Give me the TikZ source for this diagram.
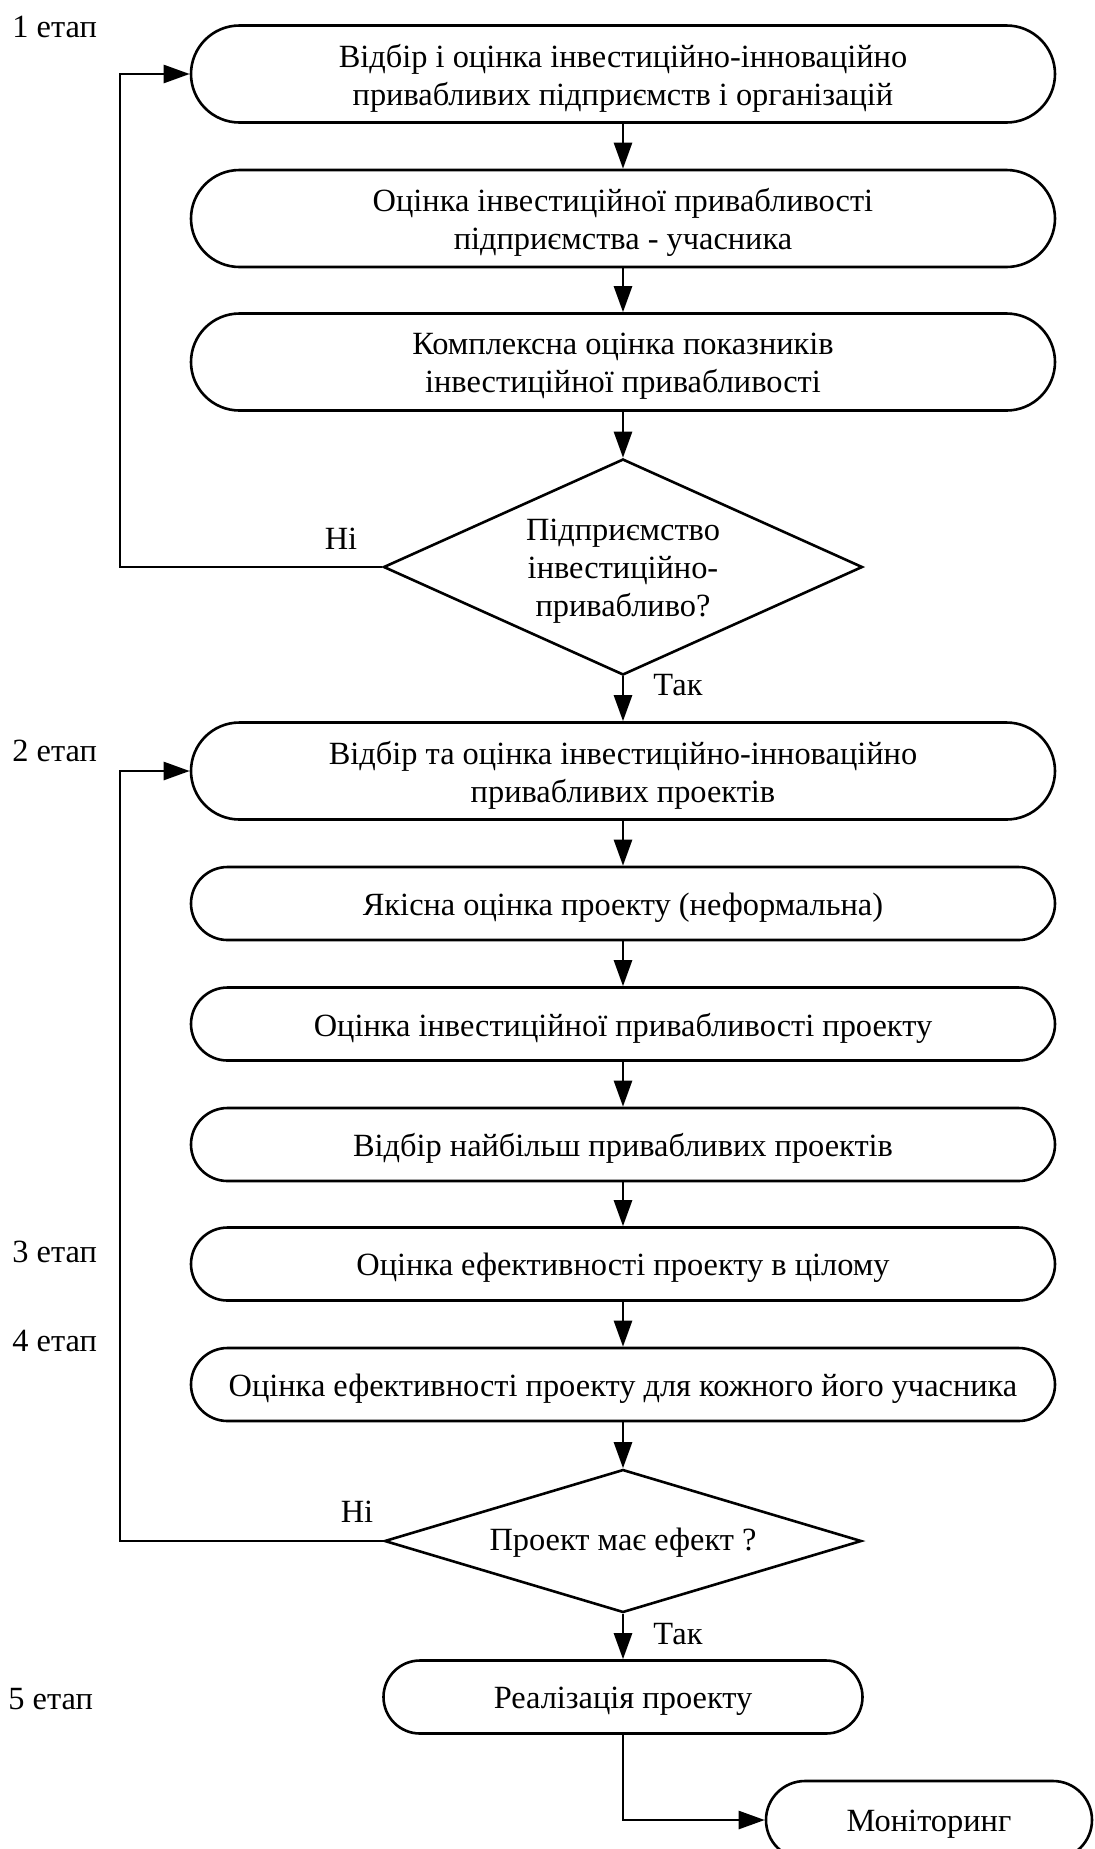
\documentclass[tikz,border=0pt]{standalone}
\usepackage{fontspec}
\setmainfont{Liberation Serif}
\usetikzlibrary{arrows.meta,shapes.misc,shapes.geometric,calc}

\begin{document}
\begin{tikzpicture}[x=0.5pt,y=-0.5pt,
  every node/.style={font=\fontsize{16.2}{19}\selectfont},
  proc/.style={rounded rectangle, draw, line width=1.3pt,
    minimum width=432pt, inner sep=0pt},
  tall/.style={minimum height=48.5pt},
  short/.style={minimum height=36.5pt},
  decision/.style={diamond, draw, line width=1.3pt, inner sep=0pt},
  txt/.style={align=center, inner sep=0pt, yshift=-2pt},
  arr/.style={line width=1.3pt, -{Triangle[length=13pt,width=9pt]}},
  lbl/.style={inner sep=0pt}
]
\useasboundingbox (0,0) rectangle (1094,1849);

% process steps (outlines)
\node[proc,tall]  (b1) at (623,74)     {};
\node[proc,tall]  (b2) at (623,218.5)  {};
\node[proc,tall]  (b3) at (623,362)    {};
\node[decision, minimum width=239.5pt, minimum height=108pt] (d1) at (623,567) {};
\node[proc,tall]  (b4) at (623,771)    {};
\node[proc,short] (b5) at (623,903.5)  {};
\node[proc,short] (b6) at (623,1024)   {};
\node[proc,short] (b7) at (623,1144.5) {};
\node[proc,short] (b8) at (623,1264)   {};
\node[proc,short] (b9) at (623,1384.5) {};
\node[decision, minimum width=238.5pt, minimum height=71.5pt] (d2) at (623,1541) {};
\node[proc,short, minimum width=239.5pt] (b10) at (623,1697) {};
\node[proc, minimum height=39pt, minimum width=163pt] (mon) at (929,1820) {};

% step texts
\node[txt] (t1)  at (b1)  {Відбір і оцінка інвестиційно-інноваційно\\привабливих підприємств і організацій};
\node[txt] (t2)  at (b2)  {Оцінка інвестиційної привабливості\\підприємства - учасника};
\node[txt] (t3)  at (b3)  {Комплексна оцінка показників\\інвестиційної привабливості};
\node[txt] (td1) at (d1)  {Підприємство\\інвестиційно-\\привабливо?};
\node[txt] (t4)  at (b4)  {Відбір та оцінка інвестиційно-інноваційно\\привабливих проектів};
\node[txt] (t5)  at (b5)  {Якісна оцінка проекту (неформальна)};
\node[txt] (t6)  at (b6)  {Оцінка інвестиційної привабливості проекту};
\node[txt] (t7)  at (b7)  {Відбір найбільш привабливих проектів};
\node[txt] (t8)  at (b8)  {Оцінка ефективності проекту в цілому};
\node[txt] (t9)  at (b9)  {Оцінка ефективності проекту для кожного його учасника};
\node[txt, yshift=1pt] (td2) at (d2)  {Проект має ефект ?};
\node[txt] (t10) at (b10) {Реалізація проекту};
\node[txt] (tm)  at (mon) {Моніторинг};

% stage labels
\node[lbl,anchor=west] (s1) at (12,27)   {1 етап};
\node[lbl,anchor=west] (s2) at (12,751)  {2 етап};
\node[lbl,anchor=west] (s3) at (12,1252) {3 етап};
\node[lbl,anchor=west] (s4) at (12,1341) {4 етап};
\node[lbl,anchor=west] (s5) at (8,1699)  {5 етап};

% branch labels
\node[lbl] (no1)  at (341,539)  {Ні};
\node[lbl] (yes1) at (678,685)  {Так};
\node[lbl] (no2)  at (357,1512) {Ні};
\node[lbl] (yes2) at (678,1634) {Так};

% return line position
\coordinate (ret) at (120,0);

% connectors
\draw[arr] (b1) -- (b2);
\draw[arr] (b2) -- (b3);
\draw[arr] (b3) -- (d1);
\draw[arr] (d1) -- (b4);
\draw[arr] (b4) -- (b5);
\draw[arr] (b5) -- (b6);
\draw[arr] (b6) -- (b7);
\draw[arr] (b7) -- (b8);
\draw[arr] (b8) -- (b9);
\draw[arr] (b9) -- (d2);
\draw[arr] (d2) -- (b10);
\draw[arr] (b10.south) |- (mon.west);

\draw[arr] (d1.west) -- (d1.west -| ret) |- (b1.west);
\draw[arr] (d2.west) -- (d2.west -| ret) |- (b4.west);
\end{tikzpicture}
\end{document}
